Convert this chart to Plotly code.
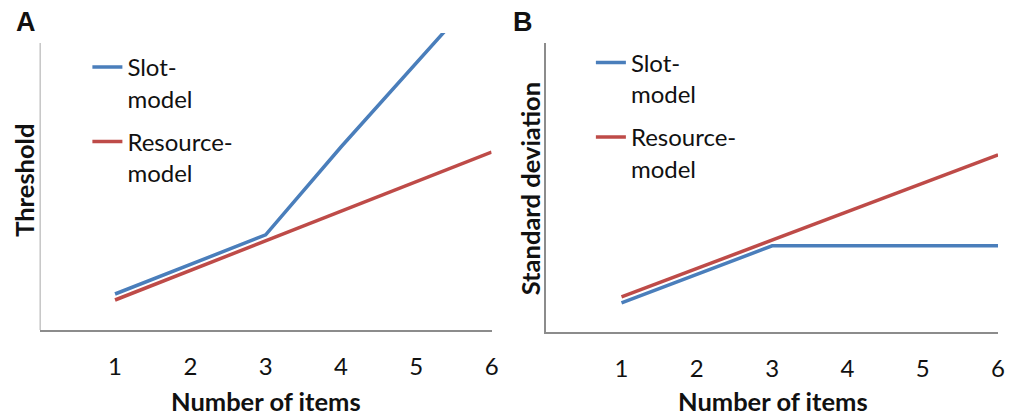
import plotly.graph_objects as go
from plotly.subplots import make_subplots

# Set sizes on the x axis
items = [1, 2, 3, 4, 5, 6]
tick_labels = ["1", "2", "3", "4", "5", "6"]

# Panel A: threshold predictions
threshold_slot = [1.2, 2.17, 3.17, 6.1, 8.9, 11.7]
threshold_resource = [1.0, 1.98, 2.97, 3.95, 4.94, 5.93]

# Panel B: standard deviation predictions
sd_slot = [0.97, 1.92, 2.87, 2.87, 2.87, 2.87]
sd_resource = [1.17, 2.12, 3.07, 4.01, 4.96, 5.9]

BLUE = "#4A7EBB"
RED = "#BE4B48"
AXIS = "#8C8C8C"
FONT = "Lato"
INK = "#111111"

W, H = 1013, 418

fig = make_subplots(rows=1, cols=2)

fig.add_trace(go.Scatter(x=items, y=threshold_slot, mode="lines", name="Slot-<br>model",
                         line=dict(color=BLUE, width=3.5), legend="legend", legendgroup="a_slot"),
              row=1, col=1)
fig.add_trace(go.Scatter(x=items, y=threshold_resource, mode="lines", name="Resource-<br>model",
                         line=dict(color=RED, width=3.5), legend="legend", legendgroup="a_res"),
              row=1, col=1)
fig.add_trace(go.Scatter(x=items, y=sd_slot, mode="lines", name="Slot-<br>model",
                         line=dict(color=BLUE, width=3.5), legend="legend2", legendgroup="b_slot"),
              row=1, col=2)
fig.add_trace(go.Scatter(x=items, y=sd_resource, mode="lines", name="Resource-<br>model",
                         line=dict(color=RED, width=3.5), legend="legend2", legendgroup="b_res"),
              row=1, col=2)

def px_x(p):
    return p / W

def px_y(p):
    return 1 - p / H

xcommon = dict(range=[0, 6], tickvals=items, ticktext=tick_labels, showgrid=False,
               zeroline=False, showline=True, linecolor=AXIS, linewidth=1.5,
               ticks="", ticklabelstandoff=14,
               tickfont=dict(family=FONT, size=24, color=INK))
ycommon = dict(showgrid=False, zeroline=False, showticklabels=False, ticks="")

fig.update_xaxes(domain=[px_x(40), px_x(495)], **xcommon, row=1, col=1)
fig.update_xaxes(domain=[px_x(550), px_x(1005)], **xcommon, row=1, col=2)
fig.update_yaxes(domain=[px_y(330), px_y(33)], range=[0, 9.9], showline=False, **ycommon, row=1, col=1)
fig.update_yaxes(domain=[px_y(332), px_y(43)], range=[0, 9.63], showline=True,
                 linecolor=AXIS, linewidth=1.5, **ycommon, row=1, col=2)

# Left axis line of panel A stops below the top of its plotting area
fig.add_shape(type="line", xref="x", yref="y", x0=0, x1=0, y0=0, y1=9.57,
              line=dict(color=AXIS, width=1.5))

legend_style = dict(font=dict(family=FONT, size=24, color=INK), valign="top",
                    bgcolor="rgba(0,0,0,0)", xanchor="left", yanchor="top",
                    tracegroupgap=9, itemclick=False, itemdoubleclick=False)
fig.update_layout(
    legend=dict(x=px_x(88), y=px_y(45), **legend_style),
    legend2=dict(x=px_x(595), y=px_y(40.5), **legend_style),
)

ann = []
ann.append(dict(text="<b>A</b>", x=px_x(14), y=px_y(22), xanchor="left", yanchor="middle",
                font=dict(family="Liberation Sans", size=27, color=INK)))
ann.append(dict(text="<b>B</b>", x=px_x(515), y=px_y(22), xanchor="left", yanchor="middle",
                font=dict(family="Liberation Sans", size=27, color=INK)))
for cx in (268, 778):
    ann.append(dict(text="<b>Number of items</b>", x=px_x(cx), y=px_y(401), xanchor="center",
                    yanchor="middle", font=dict(family=FONT, size=25.5, color=INK)))
ann.append(dict(text="<b>Threshold</b>", x=px_x(24), y=px_y(180), xanchor="center", yanchor="middle",
                textangle=-90, font=dict(family=FONT, size=25.5, color=INK)))
ann.append(dict(text="<b>Standard deviation</b>", x=px_x(534), y=px_y(189), xanchor="center",
                yanchor="middle", textangle=-90, font=dict(family=FONT, size=25.5, color=INK)))
for a in ann:
    a.update(xref="paper", yref="paper", showarrow=False)

fig.update_layout(
    annotations=ann,
    width=W, height=H,
    margin=dict(l=0, r=0, t=0, b=0),
    plot_bgcolor="white", paper_bgcolor="white",
    showlegend=True,
)

fig.write_html("out.html")
